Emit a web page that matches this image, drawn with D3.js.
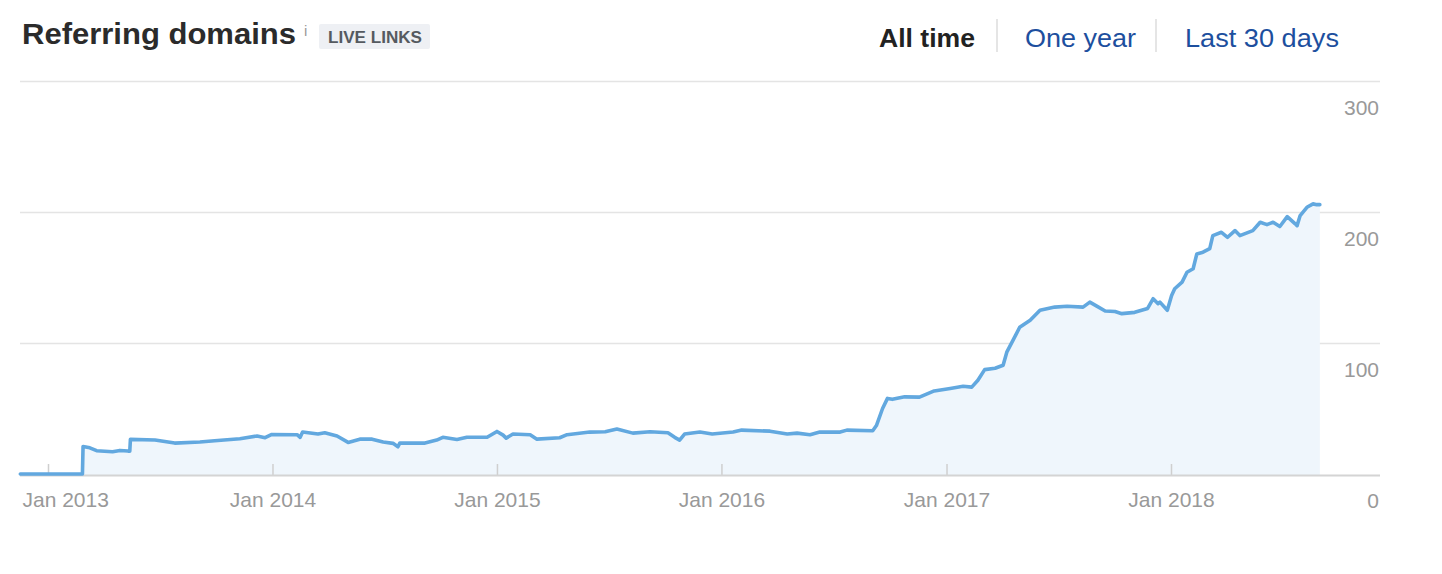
<!DOCTYPE html>
<html>
<head>
<meta charset="utf-8">
<script src="https://cdn.jsdelivr.net/npm/d3@7"></script>
<style>
  html, body { margin: 0; padding: 0; background: #ffffff; }
  svg { display: block; font-family: "Liberation Sans", Arial, Helvetica, sans-serif; }
</style>
</head>
<body>
<svg id="chart" width="1442" height="574"></svg>
<script>
// ---- data ----
const dates = [
  "2012-11-17","2013-02-26","2013-02-27","2013-03-10","2013-03-21","2013-04-16","2013-04-28","2013-05-11","2013-05-14","2013-05-15",
  "2013-06-24","2013-07-26","2013-09-05","2013-09-29","2013-11-09","2013-12-07","2013-12-20","2013-12-31","2014-02-10","2014-02-15",
  "2014-02-19","2014-03-16","2014-03-27","2014-04-16","2014-05-04","2014-05-23","2014-06-12","2014-06-30","2014-07-16","2014-07-24",
  "2014-07-27","2014-09-06","2014-09-25","2014-10-05","2014-10-28","2014-11-13","2014-12-16","2015-01-01","2015-01-11","2015-01-16",
  "2015-01-27","2015-02-24","2015-03-07","2015-04-13","2015-04-25","2015-06-01","2015-06-26","2015-07-15","2015-08-10","2015-09-07",
  "2015-10-06","2015-10-17","2015-10-25","2015-11-02","2015-11-27","2015-12-17","2016-01-20","2016-02-03","2016-03-20","2016-04-17",
  "2016-05-03","2016-05-24","2016-06-09","2016-07-12","2016-07-23","2016-09-03","2016-09-09","2016-09-19","2016-09-27","2016-10-05",
  "2016-10-25","2016-11-18","2016-12-12","2017-01-07","2017-01-28","2017-02-11","2017-02-21","2017-03-04","2017-03-21","2017-04-03",
  "2017-04-09","2017-04-19","2017-04-30","2017-05-17","2017-06-02","2017-06-26","2017-07-16","2017-08-11","2017-08-22","2017-09-03",
  "2017-09-16","2017-10-02","2017-10-13","2017-11-03","2017-11-24","2017-12-03","2017-12-11","2017-12-14","2017-12-26","2018-01-02",
  "2018-01-07","2018-01-19","2018-01-27","2018-02-06","2018-02-12","2018-02-22","2018-03-05","2018-03-10","2018-03-24","2018-04-03",
  "2018-04-15","2018-04-23","2018-05-14","2018-05-26","2018-06-06","2018-06-16","2018-06-27","2018-07-09","2018-07-22","2018-07-25",
  "2018-07-30","2018-08-10","2018-08-20","2018-08-26","2018-08-31"
];
const values = [
  0,0,21,20,17.8,17,18,17.5,17.5,26.4,
  26,23.6,24.4,25.4,26.9,29,27.7,30.2,30,28,
  32,30.5,31.5,29,24.1,26.6,26.6,24.4,23.4,20.8,
  23.6,23.6,25.9,28,26.4,28,28,32.5,29.7,27.4,
  30.5,30,26.6,27.7,30,32,32.2,34.3,31.2,32.2,
  31.5,28,25.9,30.5,32,30.5,32,33.5,32.7,30.5,
  31.2,30,32,32,33.5,33,37,50,57.7,57,
  58.9,58.7,63.4,65.3,67,66.3,71.6,79.7,80.7,83,
  93,102,112,117.3,125,127.4,128,127.4,131.2,128,
  124.4,124,122.4,123.4,126.4,133.8,130,131.2,125,136.3,
  141.4,146.5,154,156.7,168,169.3,172,182,184.5,180.7,
  185.8,182,185.8,192.2,190.4,192.2,188.9,196.5,191,189.6,
  197.3,203.6,206.2,205.6,205.6
];
const xTickDates = ["2013-01-01","2014-01-01","2015-01-01","2016-01-01","2017-01-01","2018-01-01"];
const xTickLabels = ["Jan 2013","Jan 2014","Jan 2015","Jan 2016","Jan 2017","Jan 2018"];
const yTicks = [0, 100, 200, 300];
const yTickLabels = ["0", "100", "200", "300"];
const periodLabels = ["All time", "One year", "Last 30 days"];

// ---- layout ----
const parse = d3.timeParse("%Y-%m-%d");
const data = dates.map((d, i) => ({ date: parse(d), value: values[i] }));
const tickDates = xTickDates.map(parse);

const gridLeft = 20, gridRight = 1380;
const x = d3.scaleTime()
  .domain([parse("2013-01-01"), parse("2018-01-01")])
  .range([48, 1171]);
const y = d3.scaleLinear().domain([0, 300]).range([474, 81]);

const svg = d3.select("#chart");

// gridlines
svg.append("g").selectAll("line")
  .data(yTicks.filter(v => v > 0))
  .join("line")
  .attr("x1", gridLeft).attr("x2", gridRight)
  .attr("y1", d => Math.round(y(d)) + 0.5).attr("y2", d => Math.round(y(d)) + 0.5)
  .attr("stroke", "#e4e4e4").attr("stroke-width", 1.5);

// area + line
const area = d3.area()
  .x(d => x(d.date)).y0(y(0) + 1).y1(d => y(d.value))
  .curve(d3.curveLinear);
const line = d3.line()
  .x(d => x(d.date)).y(d => y(d.value))
  .curve(d3.curveLinear);

svg.append("path").datum(data)
  .attr("d", area)
  .attr("fill", "#eff6fc");

// x axis
const xAxis = d3.axisBottom(x)
  .tickValues(tickDates)
  .tickFormat((d, i) => xTickLabels[i])
  .tickSizeInner(-11).tickSizeOuter(0).tickPadding(20);
const gx = svg.append("g").attr("transform", `translate(0,${y(0) + 1})`).call(xAxis);
gx.select(".domain").remove();
gx.selectAll(".tick line").attr("stroke", "#cfcfcf").attr("stroke-width", 1.5);
gx.selectAll(".tick text")
  .attr("fill", "#999999").attr("font-size", 21)
  .attr("font-family", "Liberation Sans, Arial, sans-serif")
  .attr("y", 0).attr("dy", 0)
  .attr("transform", "translate(0,32)");
// first label is clamped to the left edge of the plot
gx.selectAll(".tick text").filter((d, i) => i === 0)
  .attr("text-anchor", "start")
  .attr("x", gridLeft + 2 - x(tickDates[0]));
svg.append("line")
  .attr("x1", gridLeft).attr("x2", gridRight)
  .attr("y1", y(0) + 1.5).attr("y2", y(0) + 1.5)
  .attr("stroke", "#d4d4d4").attr("stroke-width", 2);

svg.append("path").datum(data)
  .attr("d", line)
  .attr("fill", "none")
  .attr("stroke", "#62a8df")
  .attr("stroke-width", 3.6)
  .attr("stroke-linejoin", "round")
  .attr("stroke-linecap", "round");

// y axis labels (right side, below gridlines)
const yAxis = d3.axisRight(y)
  .tickValues(yTicks)
  .tickFormat((d, i) => yTickLabels[i])
  .tickSize(0).tickPadding(0);
const gy = svg.append("g").attr("transform", `translate(${gridRight - 1},0)`).call(yAxis);
gy.select(".domain").remove();
gy.selectAll(".tick text")
  .attr("text-anchor", "end")
  .attr("fill", "#999999").attr("font-size", 21)
  .attr("font-family", "Liberation Sans, Arial, sans-serif")
  .attr("x", 0).attr("dy", 0).attr("y", 33);

// ---- header ----
svg.append("text")
  .attr("x", 22).attr("y", 44)
  .attr("font-size", 30).attr("font-weight", "bold").attr("fill", "#2b2b2b")
  .attr("textLength", 274).attr("lengthAdjust", "spacingAndGlyphs")
  .text("Referring domains");
svg.append("text")
  .attr("x", 304).attr("y", 36)
  .attr("font-size", 15).attr("fill", "#9a9a9a")
  .text("i");
svg.append("rect")
  .attr("x", 319).attr("y", 24).attr("width", 111).attr("height", 25)
  .attr("rx", 2).attr("fill", "#eef0f4");
svg.append("text")
  .attr("x", 328).attr("y", 43)
  .attr("font-size", 16.5).attr("font-weight", "bold").attr("fill", "#555a60")
  .attr("textLength", 94).attr("lengthAdjust", "spacingAndGlyphs")
  .text("LIVE LINKS");

const periodX = [879, 1025, 1185];
const periodW = [96, 111, 154];
svg.append("g").selectAll("text")
  .data(periodLabels)
  .join("text")
  .attr("x", (d, i) => periodX[i]).attr("y", 47)
  .attr("font-size", 25.5)
  .attr("font-weight", (d, i) => i === 0 ? "bold" : "normal")
  .attr("fill", (d, i) => i === 0 ? "#222222" : "#1d4f9e")
  .attr("textLength", (d, i) => periodW[i]).attr("lengthAdjust", "spacingAndGlyphs")
  .text(d => d);
svg.append("g").selectAll("line")
  .data([997, 1156])
  .join("line")
  .attr("x1", d => d).attr("x2", d => d)
  .attr("y1", 19).attr("y2", 52)
  .attr("stroke", "#dddddd").attr("stroke-width", 1.5);
</script>
</body>
</html>
